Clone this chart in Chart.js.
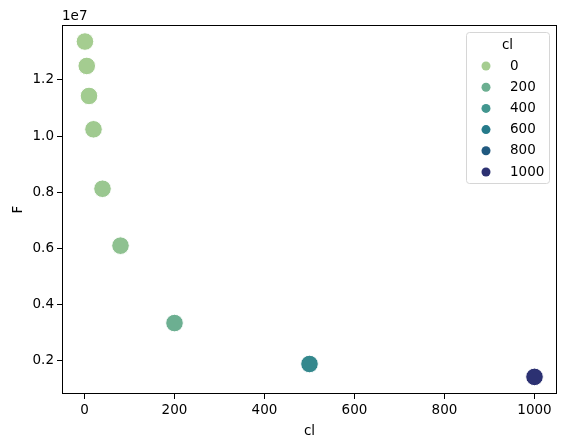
<!DOCTYPE html>
<html>
<head>
<meta charset="utf-8">
<script src="https://cdn.jsdelivr.net/npm/chart.js@4/dist/chart.umd.min.js"></script>
<style>
  html, body { margin: 0; padding: 0; background: #fff; }
  #wrap { width: 567px; height: 448px; }
</style>
</head>
<body>
<div id="wrap"><canvas id="chart"></canvas></div>
<script>
// data
var clValues = [1, 5, 10, 20, 40, 80, 200, 500, 1000];
var fValues = [1.337e7, 1.250e7, 1.143e7, 1.024e7, 0.812e7, 0.609e7, 0.333e7, 0.187e7, 0.141e7];
var xTicks = [0, 200, 400, 600, 800, 1000];
var yTicks = [0.2e7, 0.4e7, 0.6e7, 0.8e7, 1.0e7, 1.2e7];
var legendValues = [0, 200, 400, 600, 800, 1000];

// crest-like palette stops (position 0..1)
var crestStops = [
    [0.0, [165, 205, 144]],
    [0.2, [108, 175, 145]],
    [0.4, [66, 150, 143]],
    [0.6, [37, 122, 138]],
    [0.8, [32, 89, 127]],
    [1.0, [44, 49, 114]]
];

var fontFamily = '"DejaVu Sans", sans-serif';
var hueMin = Math.min(...clValues);
var hueMax = Math.max(...clValues);

function crest(t) {
    t = Math.max(0, Math.min(1, t));
    for (var i = 1; i < crestStops.length; i++) {
        var a = crestStops[i - 1], b = crestStops[i];
        if (t <= b[0]) {
            var f = (t - a[0]) / (b[0] - a[0]);
            var c = a[1].map(function (v, k) { return Math.round(v + (b[1][k] - v) * f); });
            return 'rgb(' + c.join(',') + ')';
        }
    }
    return 'rgb(' + crestStops[crestStops.length - 1][1].join(',') + ')';
}

function hueColor(v) {
    return crest((v - hueMin) / (hueMax - hueMin));
}

var points = clValues.map(function (x, i) { return { x: x, y: fValues[i] }; });

// frame, offset text and legend, drawn by hand like matplotlib does
var decorPlugin = {
    id: 'decor',
    afterDraw: function (chart) {
        var c = chart.ctx;
        var a = chart.chartArea;
        c.save();
        c.strokeStyle = '#000';
        c.lineWidth = 1;
        c.strokeRect(a.left + 0.5, a.top + 0.5, a.right - a.left - 1, a.bottom - a.top - 1);

        c.fillStyle = '#000';
        c.font = '13.5px ' + fontFamily;
        c.textBaseline = 'alphabetic';
        c.textAlign = 'left';
        c.fillText('1e7', a.left, a.top - 5);

        // legend box
        var lx = 466, ly = 32, lw = 83, lh = 151;
        c.fillStyle = 'rgba(255,255,255,0.8)';
        c.strokeStyle = '#d6d6d6';
        c.beginPath();
        c.roundRect(lx + 0.5, ly + 0.5, lw, lh, 3);
        c.fill();
        c.stroke();

        c.fillStyle = '#000';
        c.textAlign = 'center';
        c.textBaseline = 'middle';
        c.fillText('cl', lx + lw / 2, ly + 13);
        c.textAlign = 'left';
        legendValues.forEach(function (v, i) {
            var y = ly + 34 + i * 21.2;
            c.beginPath();
            c.fillStyle = hueColor(v);
            c.arc(486, y, 4.5, 0, 2 * Math.PI);
            c.fill();
            c.fillStyle = '#000';
            c.fillText(String(v), 510, y);
        });
        c.restore();
    }
};

new Chart(document.getElementById('chart'), {
    type: 'scatter',
    data: {
        datasets: [{
            label: 'cl',
            data: points,
            pointRadius: 8.8,
            pointHoverRadius: 8.8,
            pointBorderWidth: 1,
            pointBorderColor: '#fff',
            pointBackgroundColor: clValues.map(hueColor)
        }]
    },
    options: {
        responsive: true,
        maintainAspectRatio: false,
        animation: false,
        devicePixelRatio: 1,
        layout: { padding: { top: 25, right: 10, left: 0, bottom: 0 } },
        plugins: {
            legend: { display: false },
            tooltip: { enabled: false }
        },
        scales: {
            x: {
                type: 'linear',
                min: -50,
                max: 1050,
                afterBuildTicks: function (s) { s.ticks = xTicks.map(function (v) { return { value: v }; }); },
                afterFit: function (s) { s.height = 54; },
                grid: { drawOnChartArea: false, drawTicks: true, tickLength: 5, tickColor: '#000' },
                border: { display: false },
                ticks: {
                    color: '#000',
                    font: { family: fontFamily, size: 13.5 },
                    padding: 3,
                    maxRotation: 0,
                    callback: function (v) { return String(v); }
                },
                title: {
                    display: true,
                    text: 'cl',
                    color: '#000',
                    font: { family: fontFamily, size: 13.5 },
                    padding: { top: 2, bottom: 8 }
                }
            },
            y: {
                type: 'linear',
                min: 0.080e7,
                max: 1.396e7,
                afterBuildTicks: function (s) { s.ticks = yTicks.map(function (v) { return { value: v }; }); },
                afterFit: function (s) { s.width = 62; },
                grid: { drawOnChartArea: false, drawTicks: true, tickLength: 5, tickColor: '#000' },
                border: { display: false },
                ticks: {
                    color: '#000',
                    font: { family: fontFamily, size: 13.5 },
                    padding: 3,
                    callback: function (v) { return (v / 1e7).toFixed(1); }
                },
                title: {
                    display: true,
                    text: 'F',
                    color: '#000',
                    font: { family: fontFamily, size: 13.5 },
                    padding: { top: 10, bottom: 4 }
                }
            }
        }
    },
    plugins: [decorPlugin]
});
</script>
</body>
</html>
